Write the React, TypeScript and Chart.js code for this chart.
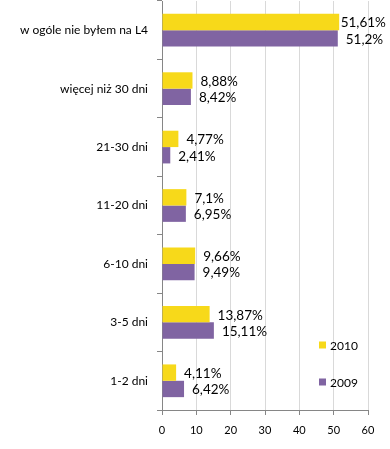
import React, { useEffect, useRef } from "react";
import { Chart, registerables } from "chart.js";

Chart.register(...registerables);

const categories = [
  "w ogóle nie byłem na L4",
  "więcej niż 30 dni",
  "21-30 dni",
  "11-20 dni",
  "6-10 dni",
  "3-5 dni",
  "1-2 dni",
];
const seriesNames = ["2010", "2009"];
const values2010 = [51.61, 8.88, 4.77, 7.1, 9.66, 13.87, 4.11];
const values2009 = [51.2, 8.42, 2.41, 6.95, 9.49, 15.11, 6.42];
const xTicks = [0, 10, 20, 30, 40, 50, 60];

const COLORS = ["#F7D91A", "#8064A2"];
const FONT = "Lato, 'Liberation Sans', sans-serif";

const labelPlugin = {
  id: "valueLabels",
  afterDatasetsDraw(chart: any) {
    const ctx = chart.ctx;
    ctx.save();
    ctx.font = `13.5px ${FONT}`;
    ctx.fillStyle = "#000";
    ctx.textBaseline = "middle";
    ctx.textAlign = "left";
    const limit = chart.chartArea.right + 16;
    chart.data.datasets.forEach((ds: any, i: number) => {
      const meta = chart.getDatasetMeta(i);
      meta.data.forEach((el: any, j: number) => {
        const txt = String(ds.data[j]).replace(".", ",") + "%";
        const w = ctx.measureText(txt).width;
        let x = el.x + 8;
        if (x + w > limit) x = Math.max(limit - w, el.x + 1.5);
        ctx.fillText(txt, x, el.y + 1);
      });
    });
    ctx.restore();
  },
};

const legendPlugin = {
  id: "customLegend",
  afterDraw(chart: any) {
    const ctx = chart.ctx;
    const { right, bottom } = chart.chartArea;
    ctx.save();
    ctx.font = `12px ${FONT}`;
    ctx.textBaseline = "middle";
    ctx.textAlign = "left";
    const x = right - 49;
    const ys = [bottom - 65, bottom - 28];
    chart.data.datasets.forEach((ds: any, i: number) => {
      ctx.fillStyle = ds.backgroundColor;
      ctx.fillRect(x, ys[i] - 3.5, 7, 7);
      ctx.fillStyle = "#000";
      ctx.fillText(ds.label, x + 11, ys[i] + 1);
    });
    ctx.restore();
  },
};

export default function App() {
  const ref = useRef<HTMLCanvasElement>(null);
  useEffect(() => {
    if (!ref.current) return;
    const chart = new Chart(ref.current, {
      type: "bar",
      data: {
        labels: categories,
        datasets: [
          { label: seriesNames[0], data: values2010, backgroundColor: COLORS[0] },
          { label: seriesNames[1], data: values2009, backgroundColor: COLORS[1] },
        ],
      },
      options: {
        indexAxis: "y",
        animation: false,
        responsive: false,
        maintainAspectRatio: false,
        datasets: { bar: { categoryPercentage: 0.56, barPercentage: 1 } },
        layout: { padding: { top: 1, right: 22, left: 0, bottom: 0 } },
        plugins: { legend: { display: false }, tooltip: { enabled: false } },
        scales: {
          x: {
            min: 0,
            max: 60,
            afterBuildTicks(scale: any) {
              scale.ticks = xTicks.map((v) => ({ value: v }));
            },
            afterFit(scale: any) {
              scale.height = 39;
              scale.paddingLeft = 0;
              scale.paddingRight = 0;
            },
            grid: {
              color: "#D9D9D9",
              tickColor: "#868686",
              tickLength: 5,
            },
            border: { color: "#868686" },
            ticks: {
              color: "#000",
              font: { family: FONT, size: 11 },
              padding: 9,
              maxRotation: 0,
            },
          },
          y: {
            afterFit(scale: any) {
              scale.width = 162;
              scale.paddingTop = 0;
              scale.paddingBottom = 0;
            },
            grid: {
              drawOnChartArea: false,
              tickColor: "#868686",
              tickLength: 5,
              offset: true,
            },
            border: { color: "#868686" },
            ticks: {
              color: "#000",
              font: { family: FONT, size: 12 },
              padding: 9,
            },
          },
        },
      },
      plugins: [labelPlugin, legendPlugin],
    });
    return () => chart.destroy();
  }, []);
  return (
    <div style={{ position: "fixed", left: 0, top: 0, width: 390, height: 449, background: "#fff" }}>
      <canvas ref={ref} width={390} height={449} style={{ width: 390, height: 449 }} />
    </div>
  );
}
